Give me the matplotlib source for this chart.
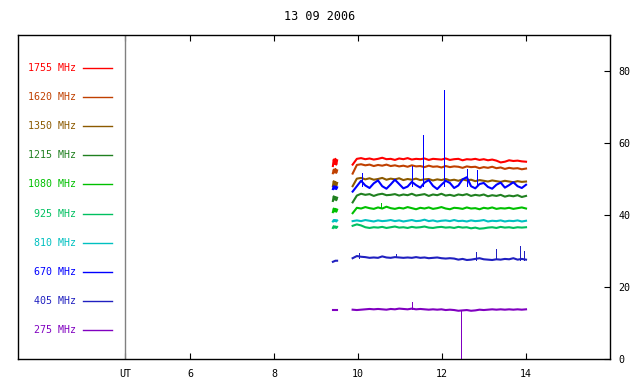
import numpy as np
from matplotlib import pyplot as plt

plt.rcParams['font.family'] = ['DejaVu Sans Mono']

TITLE = "13 09 2006"
UT_POS = 4.45

freqs = ["1755 MHz", "1620 MHz", "1350 MHz", "1215 MHz", "1080 MHz",
         "925 MHz", "810 MHz", "670 MHz", "405 MHz", "275 MHz"]
colors = ["#ff0000", "#c04000", "#8c5a00", "#208020", "#00c000",
          "#00c060", "#00c0c0", "#0000ff", "#2020c0", "#8000c0"]
legend_y = [80.8, 72.7, 64.6, 56.6, 48.5, 40.4, 32.3, 24.2, 16.2, 8.1]

# short first block 9.40-9.50 UT, main block 9.87-14.00 UT
seg1_t = (9.40, 9.50)
seg2_t = (9.87, 14.00)

seg1 = {
    "1755 MHz": [53.6, 55.4, 54.2, 55.6, 54.0, 55.2],
    "1620 MHz": [51.6, 52.6, 51.8, 52.8, 51.7, 52.4],
    "1350 MHz": [48.0, 49.4, 48.3, 49.2, 48.1, 48.9],
    "1215 MHz": [43.9, 45.2, 44.3, 45.0, 44.1, 44.8],
    "1080 MHz": [40.8, 41.8, 41.0, 41.7, 40.9, 41.5],
    "925 MHz": [36.4, 36.9, 36.5, 36.8, 36.4, 36.7],
    "810 MHz": [38.2, 38.6, 38.3, 38.6, 38.2, 38.5],
    "670 MHz": [47.2, 48.0, 47.3, 47.9, 47.2, 47.7],
    "405 MHz": [27.0, 27.1, 27.2, 27.3, 27.3, 27.3],
    "275 MHz": [13.7, 13.7, 13.7, 13.7, 13.7, 13.7],
}

seg2 = {
    "1755 MHz": [54.0, 55.6, 55.8, 55.5, 55.7, 55.4, 55.6, 55.9, 55.5, 55.6, 55.3, 55.7, 55.5, 55.8,
                 55.4, 55.6, 55.5, 55.7, 55.3, 55.6, 55.5, 55.4, 55.7, 55.3, 55.5, 55.6, 55.2, 55.5,
                 55.4, 55.6, 55.3, 55.5, 55.2, 55.4, 55.1, 54.6, 54.8, 55.2, 55.0, 55.1, 54.9, 54.8],
    "1620 MHz": [51.5, 53.9, 54.1, 53.8, 54.0, 53.6, 53.9, 53.7, 54.0, 53.6, 53.8, 53.5, 53.7, 53.4,
                 53.8, 53.5, 53.6, 53.3, 53.7, 53.4, 53.5, 53.2, 53.6, 53.3, 53.5, 53.4, 53.1, 53.5,
                 53.3, 53.4, 53.0, 53.3, 53.1, 53.4, 53.0, 53.2, 52.8, 53.1, 52.9, 53.0, 52.7, 52.9],
    "1350 MHz": [48.0, 50.1, 50.3, 49.9, 50.2, 49.8, 50.0, 50.3, 49.8, 50.1, 49.9, 50.2, 49.7, 50.0,
                 49.8, 50.1, 49.7, 49.9, 50.0, 49.6, 49.9, 49.7, 50.0, 49.6, 49.8, 49.5, 49.9, 49.6,
                 49.8, 49.4, 49.7, 49.5, 49.3, 49.6, 49.4, 49.2, 49.5, 49.3, 49.1, 49.4, 49.2, 49.3],
    "1215 MHz": [43.5, 45.4, 45.9, 45.6, 45.8, 45.3, 45.7, 45.9, 45.5, 45.6, 45.8, 45.4, 45.7, 45.5,
                 45.9, 45.4, 45.6, 45.8, 45.3, 45.7, 45.5, 45.9, 45.4, 45.6, 45.3, 45.7, 45.5, 45.8,
                 45.3, 45.6, 45.4, 45.7, 45.2, 45.5, 45.3, 45.6, 45.1, 45.4, 45.2, 45.5, 45.0, 45.3],
    "1080 MHz": [40.5, 42.0, 41.8, 42.2, 41.9, 41.7, 42.1, 41.8, 42.3, 41.9, 41.7, 42.0, 41.8, 42.2,
                 41.9, 41.6, 42.0, 41.8, 42.1, 41.7, 41.9, 42.2, 41.8, 41.6, 42.0, 41.9, 41.7, 42.1,
                 41.8, 41.9, 41.6, 42.0, 41.8, 42.1, 41.7, 41.9, 41.8, 42.0, 41.7, 41.9, 42.1, 41.8],
    "925 MHz": [37.0, 37.4, 37.1, 36.6, 36.4, 36.6, 36.5, 36.7, 36.4, 36.6, 36.8, 36.5, 36.6, 36.4,
                36.7, 36.5, 36.6, 36.8, 36.5, 36.4, 36.6, 36.7, 36.5, 36.6, 36.4, 36.7, 36.5, 36.6,
                36.3, 36.5, 36.2, 36.3, 36.5, 36.6, 36.4, 36.7, 36.5, 36.6, 36.4, 36.6, 36.5, 36.6],
    "810 MHz": [38.3, 38.5, 38.3, 38.6, 38.4, 38.2, 38.5, 38.3, 38.4, 38.6, 38.3, 38.5, 38.2, 38.4,
                38.6, 38.3, 38.4, 38.7, 38.3, 38.5, 38.2, 38.4, 38.5, 38.3, 38.6, 38.3, 38.4, 38.2,
                38.5, 38.3, 38.4, 38.6, 38.2, 38.4, 38.3, 38.5, 38.2, 38.4, 38.3, 38.5, 38.2, 38.4],
    "670 MHz": [46.5, 48.0, 49.5, 48.2, 47.5, 48.8, 49.6, 48.0, 47.3, 48.5, 49.8, 48.6, 47.4, 47.9,
                49.2, 48.3, 47.6, 49.0, 49.7, 48.1, 47.2, 48.4, 49.5, 48.9, 47.5, 48.2, 49.9, 50.5,
                48.0, 47.4, 48.6, 48.9, 47.8, 47.3, 48.4, 49.0, 47.6, 48.3, 49.1, 48.0, 47.5, 48.4],
    "405 MHz": [28.0, 28.6, 28.4, 28.3, 28.1, 28.2, 28.1, 28.5, 28.2, 28.1, 28.3, 28.2, 28.1, 28.2,
                28.1, 28.3, 28.1, 28.2, 28.0, 28.1, 28.2, 28.0, 27.9, 28.0, 27.9, 27.6, 27.8, 27.5,
                27.6, 27.8, 28.0, 27.7, 27.6, 27.5, 27.7, 27.6, 27.8, 27.7, 28.0, 27.6, 27.8, 27.6],
    "275 MHz": [13.7, 13.6, 13.7, 13.8, 13.9, 13.8, 13.9, 13.8, 13.7, 13.9, 13.8, 14.0, 13.9, 13.8,
                14.0, 13.8, 13.9, 13.8, 13.7, 13.8, 13.7, 13.8, 13.6, 13.7, 13.6, 13.4, 13.5, 13.6,
                13.4, 13.5, 13.7, 13.6, 13.7, 13.8, 13.7, 13.8, 13.7, 13.8, 13.7, 13.8, 13.7, 13.8],
}

# spikes: (time UT, base, peak)
spikes = {
    "670 MHz": [(10.10, 48.0, 51.8), (11.29, 48.0, 53.5), (11.55, 48.0, 62.3),
                (12.05, 48.0, 74.6), (12.59, 48.0, 52.9), (12.83, 48.0, 52.5)],
    "405 MHz": [(10.02, 28.0, 29.4), (10.90, 28.2, 29.2), (12.80, 27.6, 29.6),
                (13.28, 27.7, 30.5), (13.85, 27.6, 31.5), (13.95, 27.5, 30.0)],
    "275 MHz": [(11.29, 13.9, 15.7), (12.45, 13.7, 0.0)],
    "1080 MHz": [(10.55, 42.0, 43.2)],
}

fig = plt.figure(figsize=(6.4, 3.84), dpi=100)
ax = fig.add_axes([18 / 640, 25 / 384, 592 / 640, 324 / 384])

for name, c in zip(freqs, colors):
    v1 = seg1[name]
    ax.plot(np.linspace(seg1_t[0], seg1_t[1], len(v1)), v1, color=c, lw=1.5)
    v2 = seg2[name]
    ax.plot(np.linspace(seg2_t[0], seg2_t[1], len(v2)), v2, color=c, lw=1.5)
    for t, lo, hi in spikes.get(name, []):
        ax.vlines(t, lo, hi, color=c, lw=0.72, antialiased=False)

# legend block on the left
tr = ax.get_yaxis_transform()
for name, c, y in zip(freqs, colors, legend_y):
    ax.text(0.098, y, name, color=c, fontsize=7.2, ha='right', va='center', transform=tr)
    ax.plot([0.110, 0.159], [y, y], color=c, lw=1, transform=tr)

ax.axvline(UT_POS, color='gray', lw=1)

ax.set_xlim(1.9, 16.0)
ax.set_ylim(0, 90)
ax.set_xticks([UT_POS, 6, 8, 10, 12, 14])
ax.set_xticklabels(['UT', '6', '8', '10', '12', '14'])
ax.set_yticks([0, 20, 40, 60, 80])
ax.yaxis.tick_right()
ax.tick_params(axis='x', direction='in', length=4, top=True, labelsize=7.2, pad=7)
ax.tick_params(axis='y', direction='in', length=4, left=False, right=True, labelsize=7.2, pad=6)
for s in ax.spines.values():
    s.set_linewidth(1)

fig.text(0.5, 1 - 17 / 384, TITLE, ha='center', va='center', fontsize=8.5)

fig.savefig("out.png", dpi=100)
